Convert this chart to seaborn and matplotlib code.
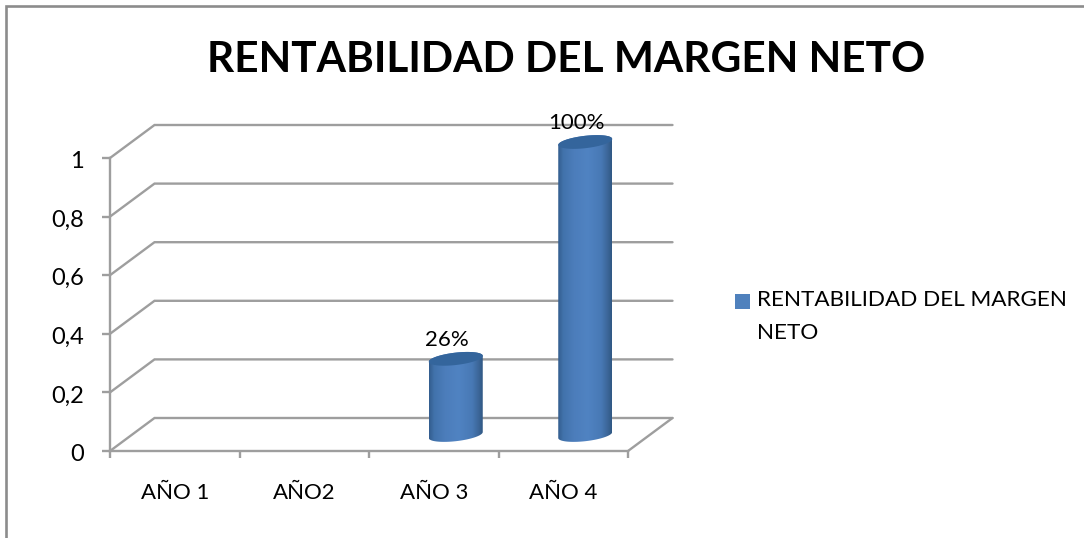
import numpy as np
import pandas as pd
import seaborn as sns
import matplotlib
matplotlib.use("Agg")
import matplotlib.pyplot as plt
from matplotlib.path import Path
from matplotlib.patches import PathPatch, Patch
from matplotlib.lines import Line2D
from matplotlib.transforms import IdentityTransform, ScaledTranslation
from matplotlib.colors import LinearSegmentedColormap

categories = ["AÑO 1", "AÑO2", "AÑO 3", "AÑO 4"]
values = [0.0, 0.0, 0.26, 1.0]
value_labels = ["", "", "26%", "100%"]
y_ticks = [0, 0.2, 0.4, 0.6, 0.8, 1]
y_tick_labels = ["0", "0,2", "0,4", "0,6", "0,8", "1"]
title = "RENTABILIDAD DEL MARGEN NETO"
series_name = "RENTABILIDAD DEL MARGEN\nNETO"

W, H = 1084, 538
DPI = 100
GRID = "#9e9e9e"
BORDER = "#8c8c8c"
BLUE = "#4f81bd"
FONT = ["Lato", "DejaVu Sans"]

sns.set_theme(style="white")
plt.rcParams["font.family"] = FONT

fig = plt.figure(figsize=(W / DPI, H / DPI), dpi=DPI, facecolor="white")
ax = fig.add_axes([110 / W, 1 - 451 / H, (628 - 110) / W, (451 - 158) / H])
df = pd.DataFrame({"cat": categories, "val": values})
CAT_PX = 518 / 4
sns.barplot(data=df, x="cat", y="val", ax=ax, color=BLUE, saturation=1, width=46 / CAT_PX, zorder=3)
ax.set_xlim(-0.5, 3.5)
ax.set_ylim(0, 1)
ax.set_xlabel("")
ax.set_ylabel("")
ax.patch.set_alpha(0)

# depth of the fake 3D box, in pixels
DX, DY = 44.5, 33
BX, BY = 22, 16
dx = DX / CAT_PX
dy = DY / 293
for v in y_ticks:
    ax.plot([-0.5, -0.5 + dx, 3.5 + dx], [v, v + dy, v + dy], color=GRID, lw=1.7,
            clip_on=False, zorder=1, solid_joinstyle="miter")
ax.plot([3.5, 3.5 + dx], [0, dy], color=GRID, lw=1.7, clip_on=False, zorder=1)

# axes
for s in ["top", "right"]:
    ax.spines[s].set_visible(False)
for s in ["left", "bottom"]:
    ax.spines[s].set_color(GRID)
    ax.spines[s].set_linewidth(1.7)
ax.set_yticks(y_ticks)
ax.set_yticklabels(y_tick_labels)
ax.set_xticks(range(len(categories)))
ax.set_xticklabels(categories)
ax.set_xticks(np.arange(-0.5, 4, 1), minor=True)
ax.tick_params(axis="x", which="major", length=0, pad=23, labelsize=16, labelcolor="black")
ax.tick_params(axis="x", which="minor", length=5.2, width=1.7, color=GRID, bottom=True)
ax.tick_params(axis="y", length=5.8, width=1.7, color=GRID, pad=13, labelsize=17, labelcolor="black", left=True)
for lbl in ax.get_yticklabels():
    lbl.set_transform(lbl.get_transform() + ScaledTranslation(0, -1.5 / DPI, fig.dpi_scale_trans))

# cylinders built around the bars
cmap = LinearSegmentedColormap.from_list("cyl", [
    (0.0, "#335d8e"), (0.1, "#4273ac"), (0.3, "#4c7dbb"), (0.55, "#5083c2"),
    (0.8, "#4879b5"), (0.93, "#3b6597"), (1.0, "#305883")])
grad = np.linspace(0, 1, 256)[None, :]
fig.canvas.draw()
offset = ScaledTranslation(BX / DPI, BY / DPI, fig.dpi_scale_trans)
a, b, tilt = 27, 6.2, 0.11
for p, v, lab in zip(ax.patches, values, value_labels):
    p.set_transform(ax.transData + offset)
    p.set_linewidth(0)
    p.set_clip_on(False)
    if v <= 0:
        continue
    xc = p.get_x() + p.get_width() / 2
    x0, x1 = xc - a / CAT_PX, xc + a / CAT_PX
    cx, by = ax.transData.transform((xc, 0)) + np.array([BX, BY])
    _, ty = ax.transData.transform((xc, v)) + np.array([BX, BY])
    tt = np.linspace(0, np.pi, 60)
    def ell(c_y, t):
        return np.c_[cx + a * np.cos(t), c_y + b * np.sin(t) + tilt * a * np.cos(t)]
    body = np.vstack([ell(ty, tt), ell(by, tt + np.pi)])
    clip = Path(np.vstack([body, body[0]]), closed=True)
    im = ax.imshow(grad, extent=[x0, x1, -0.2, 1.3], aspect="auto", cmap=cmap, zorder=4,
                   transform=ax.transData + offset, interpolation="bilinear")
    im.set_clip_box(fig.bbox)
    im.set_clip_path(clip, IdentityTransform())
    top = ell(ty, np.linspace(0, 2 * np.pi, 120))
    ax.add_patch(PathPatch(Path(top, closed=True), transform=IdentityTransform(), facecolor="#34659c",
                           edgecolor="none", zorder=5, clip_on=False))
    ax.annotate(lab, xy=(xc, v), xytext=(BX - 9, BY + 19), textcoords="offset pixels",
                ha="center", va="center", fontsize=16, color="black", zorder=6, annotation_clip=False)
ax.set_xlim(-0.5, 3.5)
ax.set_ylim(0, 1)

fig.text(566 / W, 1 - 60 / H, title, ha="center", va="center", fontsize=30.5, fontweight="bold", color="black")

leg = ax.legend(handles=[Patch(facecolor=BLUE, edgecolor="none", label=series_name)],
                loc="upper left", bbox_to_anchor=(735 / W, 1 - 290 / H), bbox_transform=fig.transFigure,
                frameon=False, fontsize=16.2, handlelength=0.67, handleheight=0.67, handletextpad=0.31,
                borderpad=0, borderaxespad=0, labelspacing=0, alignment="left")
for t in leg.get_texts():
    t.set_color("black")
    t.set_linespacing(1.79)
h = leg.legend_handles[0]
h.set_y(h.get_y() + 10.8)

fig.add_artist(Line2D([5.8 / W, 5.8 / W, 1], [0, 1 - 6 / H, 1 - 6 / H], color=BORDER, lw=1.9,
                      solid_joinstyle="miter"))

fig.savefig("out.png", dpi=DPI, facecolor="white")
